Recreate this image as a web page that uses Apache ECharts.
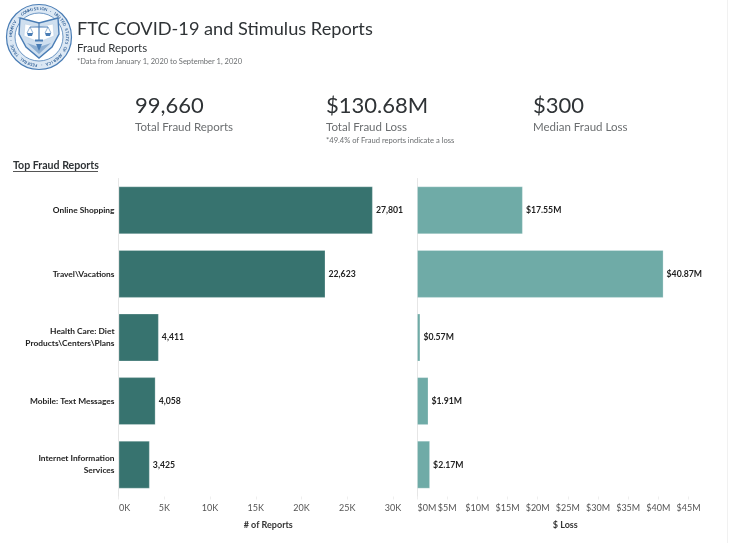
<!DOCTYPE html>
<html><head><meta charset="utf-8">
<style>html,body{margin:0;padding:0;background:#fff}#c{width:729px;height:543px}</style>
<script src="https://cdn.jsdelivr.net/npm/echarts@6/dist/echarts.min.js"></script></head>
<body><div id="c"></div>
<script>
const categories = ['Online Shopping','Travel\\Vacations','Health Care: Diet\nProducts\\Centers\\Plans','Mobile: Text Messages','Internet Information\nServices'];
const reports = [27801,22623,4411,4058,3425];
const losses = [17.55,40.87,0.57,1.91,2.17];
const kpiValues = ['99,660','$130.68M','$300'];
const kpiLabels = ['Total Fraud Reports','Total Fraud Loss','Median Fraud Loss'];
const F = 'Lato,"Noto Sans",sans-serif';
const ink='#2f3336', grey='#6b6e70', dark='#37736f', light='#6fabA7';

function T(x,y,text,size,fill,weight,extra){
  return {type:'text',x,y,silent:true,style:Object.assign({text,font:(weight||'normal')+' '+size+'px '+F,fill,textVerticalAlign:'middle'},extra||{})};
}
// seal artwork
const sx=39, sy=37, blue='#4a7db5';
const seal=[
  {type:'circle',shape:{cx:sx,cy:sy,r:32.5},style:{fill:'#dce8f4',stroke:blue,lineWidth:1.2}},
  {type:'circle',shape:{cx:sx,cy:sy,r:24},style:{fill:'#fff',stroke:blue,lineWidth:.8}},
  {type:'polygon',shape:{points:[[20,18],[39,23],[58,18],[59,34],[52,47],[39,58],[26,47],[19,34]]},style:{fill:'#cfdfef',stroke:blue,lineWidth:1.4}},
  {type:'polygon',shape:{points:[[25,24],[39,27],[53,24],[54,36],[39,42],[24,36]]},style:{fill:'#fff',stroke:'#b9cde3',lineWidth:.5}},
  {type:'line',shape:{x1:39,y1:22,x2:39,y2:41},style:{stroke:blue,lineWidth:1.2}},
  {type:'line',shape:{x1:30,y1:27,x2:48,y2:27},style:{stroke:blue,lineWidth:1}},
  {type:'polygon',shape:{points:[[27,33],[33,33],[32,36],[28,36]]},style:{fill:blue}},
  {type:'polygon',shape:{points:[[45,33],[51,33],[50,36],[46,36]]},style:{fill:blue}},
  {type:'polyline',shape:{points:[[27,33],[30,27],[33,33]]},style:{stroke:blue,lineWidth:.6,fill:'none'}},
  {type:'polyline',shape:{points:[[45,33],[48,27],[51,33]]},style:{stroke:blue,lineWidth:.6,fill:'none'}},
  {type:'rect',shape:{x:35,y:39.5,width:8,height:2},style:{fill:blue}},
  {type:'polygon',shape:{points:[[27,43],[39,47],[51,43],[39,54]]},style:{fill:'#8fb0d3'}},
  {type:'polygon',shape:{points:[[36,44],[42,44],[39,51]]},style:{fill:blue}}
];
const ring='COMMISSION · UNITED STATES OF AMERICA · FEDERAL TRADE · MCMXIV · ';
[...ring].forEach((ch,i)=>{
  const a=i/ring.length*Math.PI*2-2.2;
  seal.push({type:'text',x:sx+28.3*Math.cos(a),y:sy+28.3*Math.sin(a),rotation:-(a+Math.PI/2),silent:true,
    style:{text:ch,font:'bold 4px '+F,fill:'#2f5f96',textAlign:'center',textVerticalAlign:'middle'}});
});
const kx=[135,326,533];
const graphics=[
  ...seal,
  T(77,29,'FTC COVID-19 and Stimulus Reports',18.2,ink),
  T(77,48,'Fraud Reports',11.4,ink),
  T(77,61.5,'*Data from January 1, 2020 to September 1, 2020',7.5,grey),
  ...kx.flatMap((x,i)=>[T(x,106,kpiValues[i],22,ink),T(x,127,kpiLabels[i],11.5,grey)]),
  T(326,140.5,'*49.4% of Fraud reports indicate a loss',7.6,grey),
  T(13,166,'Top Fraud Reports',10.6,ink,'bold'),
  {type:'line',shape:{x1:13,y1:171.5,x2:98,y2:171.5},style:{stroke:'#555',lineWidth:1}},
  {type:'line',shape:{x1:727.5,y1:0,x2:727.5,y2:543},style:{stroke:'#f1f1f1',lineWidth:1}}
];
const axisCommon=(name,fmt,max,interval)=>({
  type:'value',min:0,max,interval,name,nameLocation:'middle',nameGap:24,
  nameTextStyle:{fontFamily:F,fontSize:9,fontWeight:'bold',color:'#333',padding:[0,0,0,25]},
  axisLine:{show:false},splitLine:{show:false},
  axisTick:{show:true,length:3,lineStyle:{color:'#eeeeee'}},
  axisLabel:{formatter:fmt,fontFamily:F,fontSize:9,color:'#555',margin:7,hideOverlap:false}
});
const catAxis=(i,show)=>({
  type:'category',gridIndex:i,data:categories,inverse:true,
  axisLine:{show:true,lineStyle:{color:'#e6e6e6',width:1}},axisTick:{show:false},
  axisLabel:{show,fontFamily:F,fontSize:8.4,fontWeight:'bold',color:'#222',margin:4,lineHeight:12,align:'right'}
});
const bar=(i,data,color,fmt)=>({
  type:'bar',xAxisIndex:i,yAxisIndex:i,data,barWidth:48,itemStyle:{color,borderColor:'rgba(255,255,255,0.25)',borderWidth:1},
  label:{show:true,position:'right',distance:3,formatter:fmt,fontFamily:F,fontSize:8.7,fontWeight:'bold',color:'#222'},
  silent:true,animation:false
});
const chart=echarts.init(document.getElementById('c'),null,{renderer:'canvas'});
chart.setOption({
  animation:false,backgroundColor:'#fff',
  grid:[
    {left:118.5,top:178.5,width:274.5,height:318,containLabel:false},
    {left:417,top:178.5,width:271.5,height:318,containLabel:false}
  ],
  xAxis:[
    Object.assign(axisCommon('# of Reports',v=>v===0?'{z|0K}':(v/1000)+'K',30000,5000),{gridIndex:0}),
    Object.assign(axisCommon('$ Loss',v=>v===0?'{z|$0M}':'$'+v+'M',45,5),{gridIndex:1})
  ],
  yAxis:[catAxis(0,true),catAxis(1,false)],
  series:[
    bar(0,reports,dark,p=>p.value.toLocaleString('en-US')),
    bar(1,losses,light,p=>'$'+p.value.toFixed(2)+'M')
  ],
  graphic:graphics
});
chart.setOption({xAxis:[
 {axisLabel:{rich:{z:{padding:[0,0,0,12],fontFamily:F,fontSize:9,color:'#555'}}}},
 {axisLabel:{rich:{z:{padding:[0,0,0,20],fontFamily:F,fontSize:9,color:'#555'}}}}
]});
</script></body></html>
